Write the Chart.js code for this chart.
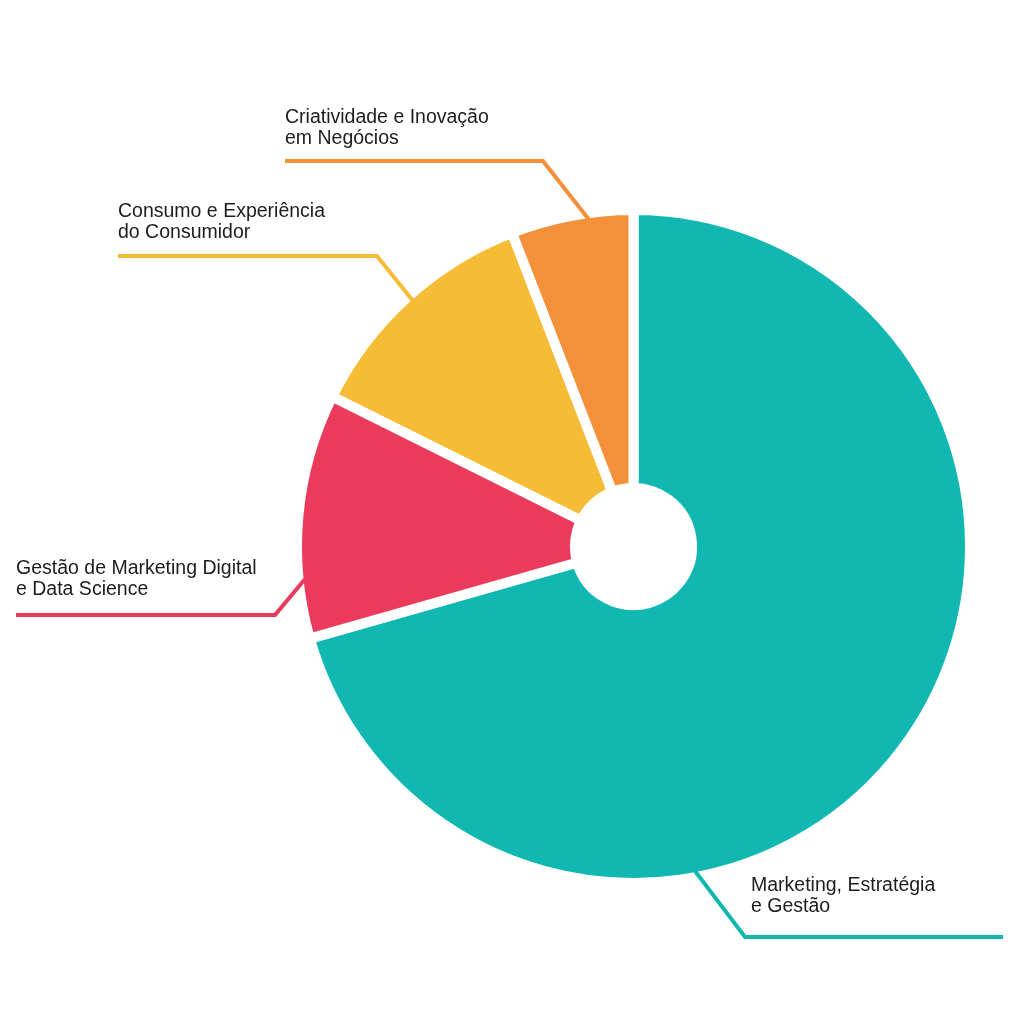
<!DOCTYPE html>
<html>
<head>
<meta charset="utf-8">
<script src="https://cdn.jsdelivr.net/npm/chart.js@4.4.1/dist/chart.umd.min.js"></script>
<style>
  html, body { margin: 0; padding: 0; background: #ffffff; }
  #wrap { position: absolute; left: 0; top: 0; width: 1024px; height: 1024px; }
</style>
</head>
<body>
<div id="wrap"><canvas id="c" width="1024" height="1024"></canvas></div>
<script>
// ---- Data ----
const categories = [
  "Marketing, Estratégia e Gestão",
  "Gestão de Marketing Digital e Data Science",
  "Consumo e Experiência do Consumidor",
  "Criatividade e Inovação em Negócios"
];
const labelLines = [
  ["Marketing, Estratégia", "e Gestão"],
  ["Gestão de Marketing Digital", "e Data Science"],
  ["Consumo e Experiência", "do Consumidor"],
  ["Criatividade e Inovação", "em Negócios"]
];
const values = [12, 2, 2, 1];
const colors = ["#11B8B1", "#EC3A5D", "#F7BC35", "#F5903A"];

// ---- Label / leader-line layout (annotation positions) ----
const leaderLayout = [
  { frac: 0.666, elbow: [745, 937], endX: 1003, textX: 751, textY: 891 },
  { frac: 0.24,  elbow: [275, 615], endX: 16,   textX: 16,  textY: 574 },
  { frac: 0.51,  elbow: [377, 256], endX: 118,  textX: 118, textY: 217 },
  { frac: 0.63,  elbow: [543, 161], endX: 285,  textX: 285, textY: 123 }
];
const BORDER = 10;

const leaderPlugin = {
  id: 'leaders',
  afterDatasetsDraw(chart) {
    const ctx = chart.ctx;
    const meta = chart.getDatasetMeta(0);
    meta.data.forEach((arc, i) => {
      const L = leaderLayout[i];
      const p = arc.getProps(['x', 'y', 'startAngle', 'endAngle', 'outerRadius'], true);
      const a = p.startAngle + L.frac * (p.endAngle - p.startAngle);
      const r = p.outerRadius - BORDER / 2 - 1;
      const ax = p.x + Math.cos(a) * r;
      const ay = p.y + Math.sin(a) * r;
      ctx.save();
      ctx.strokeStyle = colors[i];
      ctx.lineWidth = 4;
      ctx.lineJoin = 'miter';
      ctx.lineCap = 'butt';
      ctx.beginPath();
      ctx.moveTo(ax, ay);
      ctx.lineTo(L.elbow[0], L.elbow[1]);
      ctx.lineTo(L.endX, L.elbow[1]);
      ctx.stroke();
      ctx.fillStyle = '#1d1d1b';
      ctx.font = '19.5px "Liberation Sans", Arial, Helvetica, sans-serif';
      ctx.textAlign = 'left';
      ctx.textBaseline = 'alphabetic';
      labelLines[i].forEach((t, k) => ctx.fillText(t, L.textX, L.textY + k * 20.5));
      ctx.restore();
    });
  }
};

new Chart(document.getElementById('c'), {
  type: 'doughnut',
  data: {
    labels: categories,
    datasets: [{
      data: values,
      backgroundColor: colors,
      borderColor: '#ffffff',
      borderWidth: BORDER,
      borderJoinStyle: 'miter',
      hoverOffset: 0
    }]
  },
  options: {
    responsive: false,
    animation: false,
    radius: 336.5,
    cutout: '17.4%',
    layout: { padding: { left: 263, right: 20, top: 89, bottom: 20 } },
    plugins: { legend: { display: false }, tooltip: { enabled: false } }
  },
  plugins: [leaderPlugin]
});
</script>
</body>
</html>
